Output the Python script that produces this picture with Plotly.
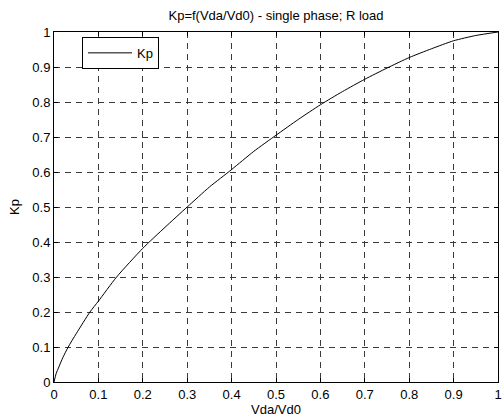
import plotly.graph_objects as go

# Data
vda_vd0 = [0, 0.005, 0.01, 0.02, 0.032, 0.05, 0.081, 0.1, 0.141, 0.2, 0.25, 0.3, 0.35, 0.4,
           0.45, 0.5, 0.55, 0.6, 0.65, 0.7, 0.75, 0.8, 0.85, 0.9, 0.95, 1.0]
kp = [0, 0.025, 0.04, 0.07, 0.1, 0.138, 0.2, 0.231, 0.3, 0.382, 0.442, 0.5, 0.557, 0.607,
      0.659, 0.705, 0.75, 0.792, 0.83, 0.865, 0.897, 0.927, 0.952, 0.975, 0.99, 1.0]

x_ticks = [0, 0.1, 0.2, 0.3, 0.4, 0.5, 0.6, 0.7, 0.8, 0.9, 1]
y_ticks = [0, 0.1, 0.2, 0.3, 0.4, 0.5, 0.6, 0.7, 0.8, 0.9, 1]
x_tick_text = ["0", "0.1", "0.2", "0.3", "0.4", "0.5", "0.6", "0.7", "0.8", "0.9", "1"]
y_tick_text = ["0", "0.1", "0.2", "0.3", "0.4", "0.5", "0.6", "0.7", "0.8", "0.9", "1"]

FONT = "Liberation Sans, Arial, sans-serif"
FS = 13

fig = go.Figure()
fig.add_trace(go.Scatter(x=vda_vd0, y=kp, mode="lines", name="Kp",
                         line=dict(color="black", width=1, shape="spline", smoothing=0.6)))

axis_common = dict(
    showline=True, linecolor="black", linewidth=1, mirror="ticks",
    ticks="inside", ticklen=4, tickcolor="black", tickwidth=1,
    showgrid=True, gridcolor="#3a3a3a", gridwidth=1, griddash="6px,5px",
    zeroline=False, automargin=False,
    tickfont=dict(family=FONT, size=FS, color="black"),
)

fig.update_layout(
    width=504, height=418,
    margin=dict(l=54, r=6, t=32, b=36),
    paper_bgcolor="white", plot_bgcolor="white",
    font=dict(family=FONT, size=FS, color="black"),
    title=dict(text="Kp=f(Vda/Vd0) - single phase; R load",
               x=0.5, xref="paper", y=1 - 15 / 418, yref="container",
               xanchor="center", yanchor="middle",
               font=dict(family=FONT, size=FS, color="black")),
    xaxis=dict(range=[0, 1], tickvals=x_ticks, ticktext=x_tick_text, **axis_common),
    yaxis=dict(range=[0, 1], tickvals=y_ticks, ticktext=y_tick_text, **axis_common),
    showlegend=True,
    legend=dict(x=0.063, y=0.986, xanchor="left", yanchor="top",
                bgcolor="white", bordercolor="black", borderwidth=1,
                font=dict(family=FONT, size=FS, color="black"),
                itemwidth=44, tracegroupgap=0),
    annotations=[
        dict(text="Vda/Vd0", xref="paper", yref="paper", x=0.5, y=-(409 - 382) / 350,
             xanchor="center", yanchor="middle", showarrow=False,
             font=dict(family=FONT, size=FS, color="black")),
        dict(text="Kp", xref="paper", yref="paper", x=-(54 - 14) / 444, y=0.5,
             xanchor="center", yanchor="middle", showarrow=False, textangle=-90,
             font=dict(family=FONT, size=FS, color="black")),
    ],
)

fig.write_html("out.html",
               config={"displayModeBar": False},
               post_script="document.body.style.margin='0';document.body.style.overflow='hidden';")
